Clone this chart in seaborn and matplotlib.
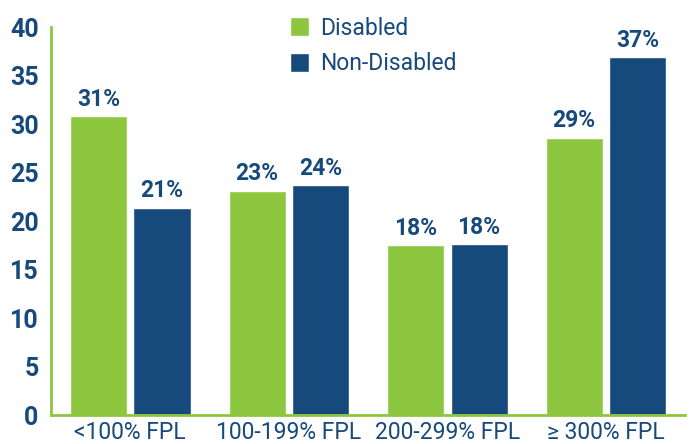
import pandas as pd
import matplotlib.pyplot as plt
import seaborn as sns

# values (percent of group)
categories = ['<100% FPL', '100-199% FPL', '200-299% FPL', '\u2265 300% FPL']
disabled = [30.8, 23.1, 17.5, 28.6]
non_disabled = [21.4, 23.7, 17.6, 36.9]
groups = ['Disabled', 'Non-Disabled']

df = pd.DataFrame({
    'FPL': categories * 2,
    'Group': [groups[0]] * 4 + [groups[1]] * 4,
    'Percent': disabled + non_disabled,
})

green = '#8DC63F'
navy = '#174A7C'

sns.set_style('white')
plt.rcParams['font.family'] = ['Roboto', 'DejaVu Sans']

fig, ax = plt.subplots(figsize=(6.9, 4.44), dpi=100)
fig.subplots_adjust(left=0.074, right=0.993, bottom=0.065, top=0.939)

sns.barplot(data=df, x='FPL', y='Percent', hue='Group', order=categories,
            hue_order=groups, palette=[green, navy], width=0.8, gap=0.1,
            saturation=1, ax=ax)

# percent labels above bars
for container in ax.containers:
    ax.bar_label(container, labels=[f'{v:.0f}%' for v in container.datavalues],
                 padding=4, fontsize=16.5, fontweight='bold', color=navy)

ax.set_ylim(0, 40)
ax.set_xlim(-0.5, 3.5)
ax.set_yticks(range(0, 41, 5))
ax.set_xlabel('')
ax.set_ylabel('')

for side in ['top', 'right']:
    ax.spines[side].set_visible(False)
for side in ['left', 'bottom']:
    ax.spines[side].set_color(green)
    ax.spines[side].set_linewidth(2)

ax.tick_params(axis='y', direction='in', length=7, width=2, color=green,
               labelsize=18, labelcolor=navy, pad=9)
for lbl in ax.get_yticklabels():
    lbl.set_fontweight('bold')
ax.tick_params(axis='x', length=0, labelsize=16.5, labelcolor=navy, pad=4)
ax.set_xticks([0.5, 1.5, 2.5], minor=True)
ax.tick_params(axis='x', which='minor', direction='in', length=9, width=2,
               color=green)

leg = ax.legend(loc='upper left', bbox_to_anchor=(0.345, 1.08), frameon=False,
                fontsize=16.5, handlelength=0.8, handleheight=0.9,
                handletextpad=0.5, labelspacing=0.55)
for t in leg.get_texts():
    t.set_color(navy)

fig.savefig('out.png', dpi=100)
